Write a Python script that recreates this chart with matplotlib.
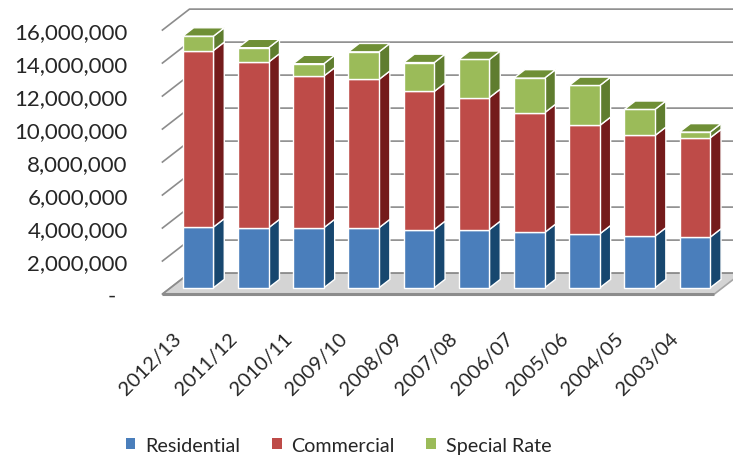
import numpy as np
import matplotlib
matplotlib.use('Agg')
import matplotlib.pyplot as plt
from matplotlib.patches import Polygon, Patch

years = ['2012/13', '2011/12', '2010/11', '2009/10', '2008/09',
         '2007/08', '2006/07', '2005/06', '2004/05', '2003/04']
residential = [3680000, 3640000, 3640000, 3640000, 3530000,
               3530000, 3350000, 3270000, 3130000, 3070000]
commercial = [10700000, 10040000, 9190000, 8990000, 8370000,
              8000000, 7260000, 6570000, 6100000, 6020000]
special = [870000, 870000, 750000, 1670000, 1750000,
           2310000, 2100000, 2420000, 1580000, 350000]
yticks = [0, 2000000, 4000000, 6000000, 8000000, 10000000, 12000000, 14000000, 16000000]

plt.rcParams['font.family'] = ['Lato', 'DejaVu Sans']

# oblique "3D" depth (in data units)
DX = 0.49
DY = 1.27e6
Z0, Z1 = 0.3, 0.7
W = 0.555

def proj(x, y, z):
    return (x + z * DX, y + z * DY)

fig = plt.figure(figsize=(7.33, 4.6), dpi=100)
ax = fig.add_axes([150 / 733, 160 / 460, 583 / 733, 295 / 460])
ax.set_xlim(-0.725, 9.837)
ax.set_ylim(-0.30e6, 17.58e6)
for s in ax.spines.values():
    s.set_visible(False)

n = len(years)
xl, xr = -0.5, n - 0.5
grid_c = '#8c8c8c'

# floor
floor = [proj(xl, 0, 0), proj(xr, 0, 0), proj(xr, 0, 1), proj(xl, 0, 1)]
ax.add_patch(Polygon(floor, closed=True, facecolor='#d4d4d4', edgecolor='#a6a6a6', lw=1.2, zorder=1))
ax.plot([proj(xl, 0, 0)[0], proj(xr, 0, 0)[0]], [proj(xl, 0, 0)[1], proj(xr, 0, 0)[1]],
        color='#8c8c8c', lw=2.2, zorder=2, solid_capstyle='butt')

# back wall and left wall grid lines
for v in yticks:
    p0, p1, p2 = proj(xl, v, 0), proj(xl, v, 1), proj(xr, v, 1)
    ax.plot([p0[0], p1[0], p2[0]], [p0[1], p1[1], p2[1]], color=grid_c, lw=1.2, zorder=1.5)

colors = [('#4a7ebb', '#17476f', '#3a6a9e'),
          ('#be4b48', '#741b1b', '#9a3634'),
          ('#9bbb59', '#5f7d2f', '#6f8f36')]

for i in range(n):
    bottoms = [0, residential[i], residential[i] + commercial[i]]
    vals = [residential[i], commercial[i], special[i]]
    for k in range(3):
        b, t = bottoms[k], bottoms[k] + vals[k]
        front_c, side_c, top_c = colors[k]
        x0, x1 = i - W / 2, i + W / 2
        front = [proj(x0, b, Z0), proj(x1, b, Z0), proj(x1, t, Z0), proj(x0, t, Z0)]
        side = [proj(x1, b, Z0), proj(x1, b, Z1), proj(x1, t, Z1), proj(x1, t, Z0)]
        ax.add_patch(Polygon(side, closed=True, facecolor=side_c, edgecolor='white', lw=1.0, zorder=3))
        ax.add_patch(Polygon(front, closed=True, facecolor=front_c, edgecolor='white', lw=1.0, zorder=3))
        if k == 2:
            top = [proj(x0, t, Z0), proj(x1, t, Z0), proj(x1, t, Z1), proj(x0, t, Z1)]
            ax.add_patch(Polygon(top, closed=True, facecolor=top_c, edgecolor='white', lw=1.0, zorder=3))

ax.set_yticks(yticks)
ax.set_yticklabels(['{:,}'.format(v) if v else '-  ' for v in yticks], fontsize=16, color='#262626')
ax.tick_params(axis='y', length=0, pad=16)

ax.set_xticks(np.arange(n) - 0.2)
ax.set_xticklabels(years, fontsize=14.5, color='#262626', rotation=45, ha='right',
                   rotation_mode='anchor', va='center')
ax.tick_params(axis='x', length=0, pad=26)

handles = [Patch(facecolor=colors[k][0], label=lab)
           for k, lab in enumerate(['Residential', 'Commercial', 'Special Rate'])]
leg = fig.legend(handles=handles, loc='center', bbox_to_anchor=(0.462, 0.03), ncol=3,
                 frameon=False, fontsize=14.2, handlelength=0.5, handleheight=0.5,
                 handletextpad=0.5, columnspacing=1.6)
for t in leg.get_texts():
    t.set_color('#262626')

fig.savefig('out.png', dpi=100)
